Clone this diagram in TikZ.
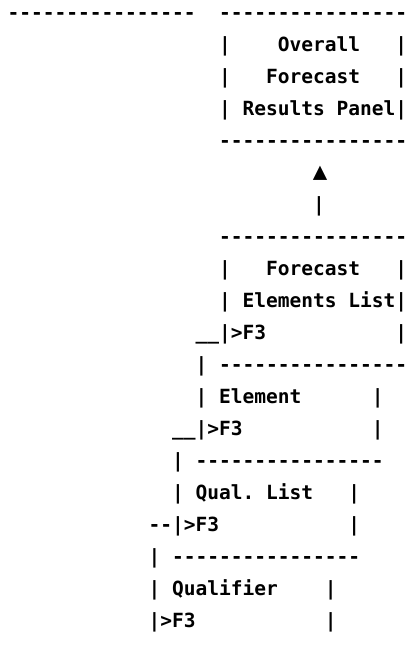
\documentclass[tikz,border=0pt]{standalone}
\usepackage{fontspec}
\newfontfamily\asciifont{DejaVu Sans Mono}[Ligatures=TeXOff]
\frenchspacing
\tikzset{
  txt/.style={anchor=base west, inner sep=0pt, outer sep=0pt,
    font=\asciifont\bfseries\fontsize{19.52pt}{32pt}\selectfont},
  tri/.style={anchor=base, inner sep=0pt, outer sep=0pt,
    font=\asciifont\bfseries\fontsize{24pt}{32pt}\selectfont},
}
\newcommand\ds{----------------}
\newcommand\us{\char"5F\char"5F}
\begin{document}
\begin{tikzpicture}
\useasboundingbox (0,0) rectangle (407pt,-652pt);
\begin{scope}[x=11.75pt, y=-32pt, shift={(7.5pt,-19.7pt)}]
% row 0
\node[txt] (r0a) at (0,0) {\ds};
\node[txt] (r0b) at (18,0) {\ds};
% overall results panel
\node[txt] (r1a) at (18,1) {|};
\node[txt] (r1b) at (23,1) {Overall};
\node[txt] (r1c) at (33,1) {|};
\node[txt] (r2a) at (18,2) {|};
\node[txt] (r2b) at (22,2) {Forecast};
\node[txt] (r2c) at (33,2) {|};
\node[txt] (r3a) at (18,3) {|};
\node[txt] (r3b) at (20,3) {Results Panel};
\node[txt] (r3c) at (33,3) {|};
\node[txt] (r4a) at (18,4) {\ds};
% arrow
\node[tri] (r5a) at (26.6,5) {▲};
\node[txt] (r6a) at (26,6) {|};
% forecast elements list
\node[txt] (r7a) at (18,7) {\ds};
\node[txt] (r8a) at (18,8) {|};
\node[txt] (r8b) at (22,8) {Forecast};
\node[txt] (r8c) at (33,8) {|};
\node[txt] (r9a) at (18,9) {|};
\node[txt] (r9b) at (20,9) {Elements List};
\node[txt] (r9c) at (33,9) {|};
\node[txt] (r10a) at (16,10) {\us|>F3};
\node[txt] (r10c) at (33,10) {|};
% element
\node[txt] (r11a) at (16,11) {|};
\node[txt] (r11b) at (18,11) {\ds};
\node[txt] (r12a) at (16,12) {|};
\node[txt] (r12b) at (18,12) {Element};
\node[txt] (r12c) at (31,12) {|};
\node[txt] (r13a) at (14,13) {\us|>F3};
\node[txt] (r13c) at (31,13) {|};
% qual. list
\node[txt] (r14a) at (14,14) {|};
\node[txt] (r14b) at (16,14) {\ds};
\node[txt] (r15a) at (14,15) {|};
\node[txt] (r15b) at (16,15) {Qual. List};
\node[txt] (r15c) at (29,15) {|};
\node[txt] (r16a) at (12,16) {--|>F3};
\node[txt] (r16c) at (29,16) {|};
% qualifier
\node[txt] (r17a) at (12,17) {|};
\node[txt] (r17b) at (14,17) {\ds};
\node[txt] (r18a) at (12,18) {|};
\node[txt] (r18b) at (14,18) {Qualifier};
\node[txt] (r18c) at (27,18) {|};
\node[txt] (r19a) at (12,19) {|>F3};
\node[txt] (r19c) at (27,19) {|};
\end{scope}
\end{tikzpicture}
\end{document}
